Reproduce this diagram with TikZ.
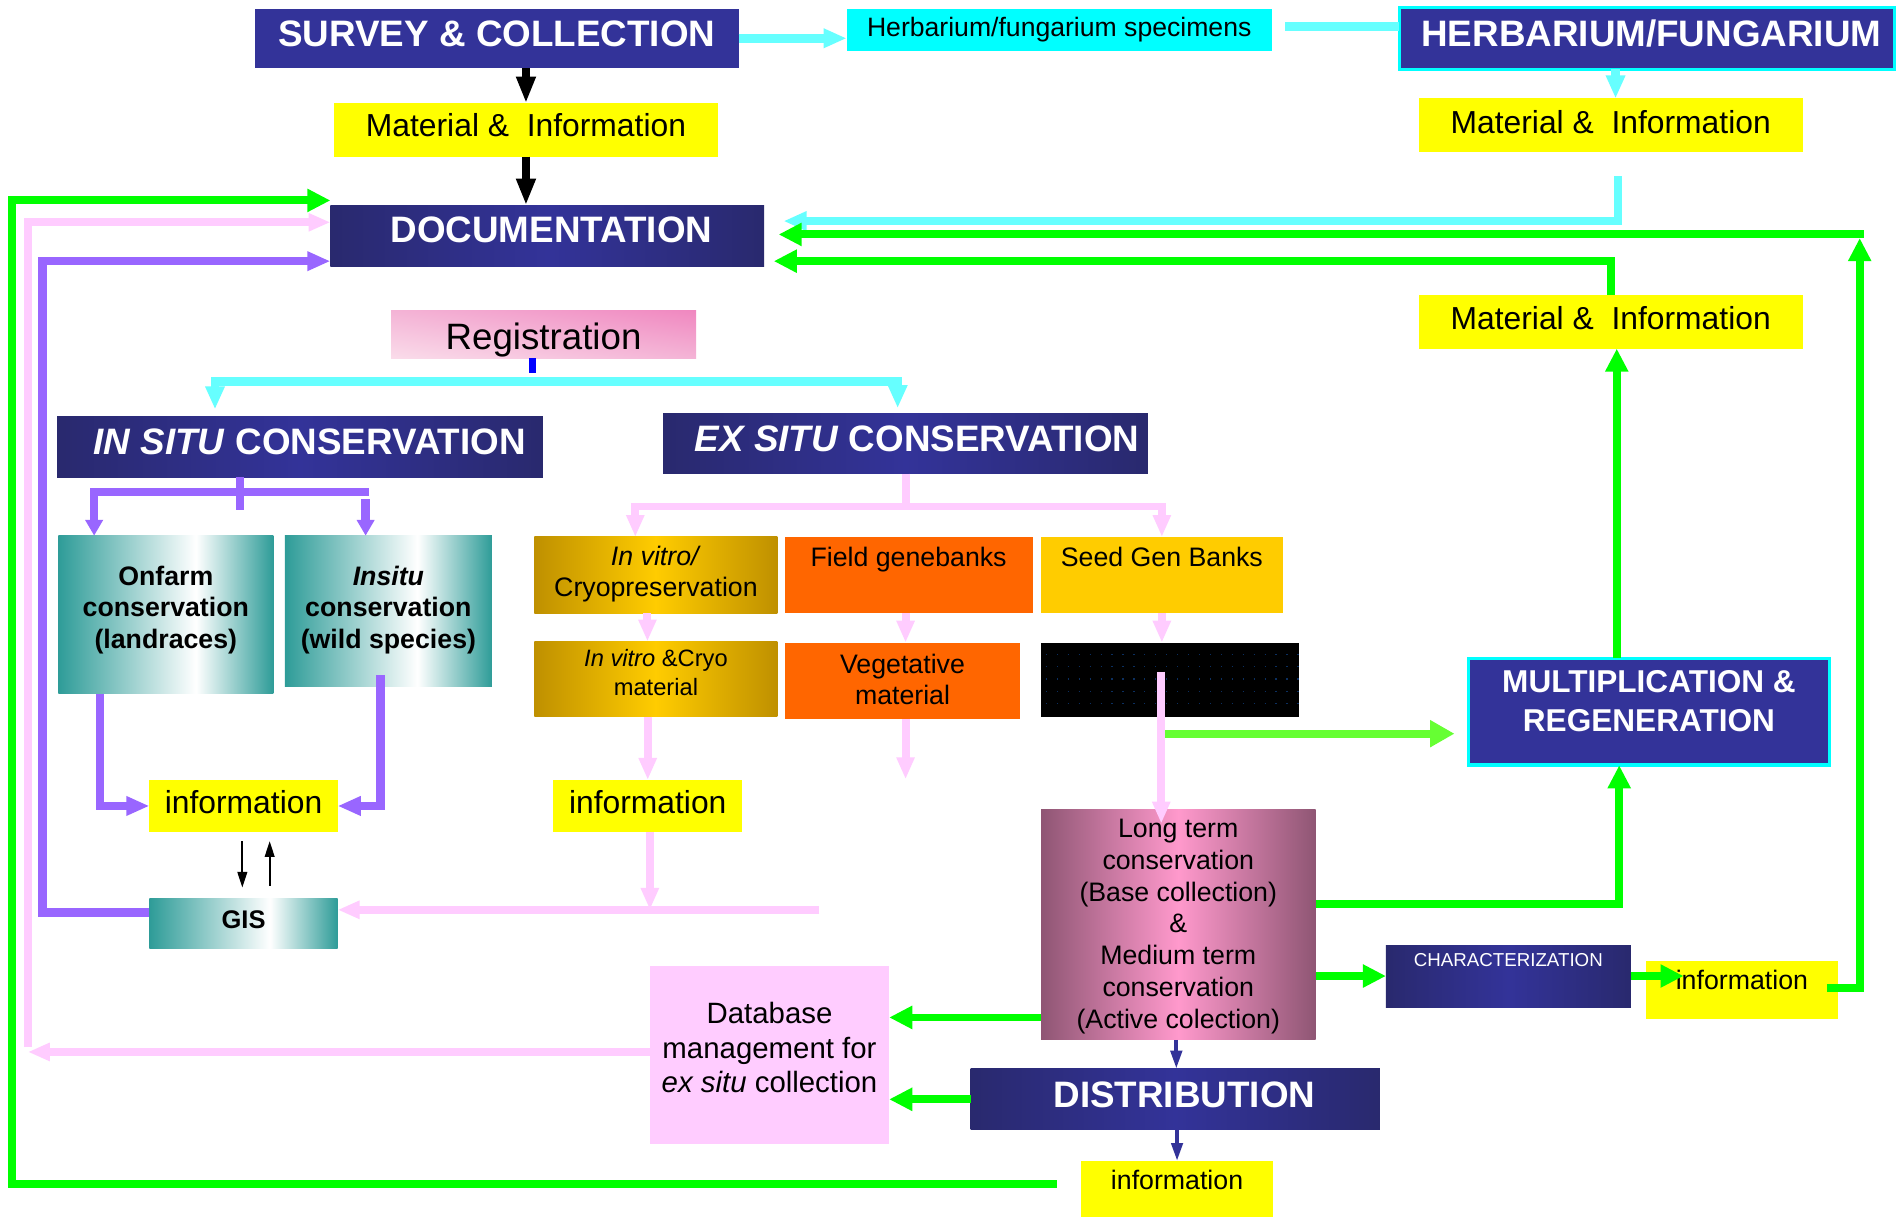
\documentclass[tikz,border=0pt]{standalone}
\usepackage{fontspec}
\setmainfont{Liberation Sans}
\usetikzlibrary{arrows.meta,calc,shadings}
\definecolor{cNavy}{HTML}{333399}
\definecolor{cNavyD}{HTML}{29296E}
\definecolor{cCyanBox}{HTML}{00FFFF}
\definecolor{cCyan}{HTML}{66FFFF}
\definecolor{cYellow}{HTML}{FFFF00}
\definecolor{cGreen}{HTML}{00FF00}
\definecolor{cLGreen}{HTML}{66FF33}
\definecolor{cPurple}{HTML}{9966FF}
\definecolor{cPink}{HTML}{FFCCFF}
\definecolor{cOrange}{HTML}{FF6600}
\definecolor{cGold}{HTML}{FFCC00}
\definecolor{cGoldD}{HTML}{BF9000}
\definecolor{cTeal}{HTML}{2E9C98}
\definecolor{cMauve}{HTML}{8F5674}
\definecolor{cRose}{HTML}{FF99CC}
\definecolor{cBlue}{HTML}{0000FF}
\definecolor{cRegA}{HTML}{FADCEA}
\definecolor{cRegB}{HTML}{F088C0}
\definecolor{cRegM}{HTML}{F4B4D6}
\definecolor{cDot}{HTML}{0B2F60}
\pgfdeclarehorizontalshading{dgteal}{100bp}{color(0bp)=(cTeal); color(25bp)=(cTeal); color(57bp)=(white); color(75bp)=(cTeal); color(100bp)=(cTeal)}
\newcommand\dgH{\fontsize{30.3}{34}\selectfont\bfseries}
\newcommand\dgS{\fontsize{21.9}{25}\selectfont}
\newcommand\dgM{\fontsize{26.2}{30}\selectfont}
\newcommand\dgR{\fontsize{30.2}{34}\selectfont}
\newcommand\dgT{\fontsize{22}{26}\selectfont\bfseries}
\newcommand\dgG{\fontsize{21}{26}\selectfont\bfseries}
\newcommand\dgO{\fontsize{22}{25.8}\selectfont}
\newcommand\dgOV{\fontsize{22}{25.5}\selectfont}
\newcommand\dgV{\fontsize{19.5}{24.5}\selectfont}
\newcommand\dgMR{\fontsize{26}{32.4}\selectfont\bfseries}
\newcommand\dgL{\fontsize{22}{26.18}\selectfont}
\newcommand\dgC{\fontsize{15.4}{18}\selectfont}
\newcommand\dgD{\fontsize{24.2}{28.6}\selectfont}
\newcommand\dgI{\fontsize{22}{26}\selectfont}
\newcommand\dgstk[1]{\begin{tabular}[b]{@{}c@{}}#1\end{tabular}}
\tikzset{
  bx/.style={inner sep=0pt, outer sep=0pt},
  tb/.style 2 args={text height=#1pt, text depth=#2pt},
  navybox/.style={bx, fill=cNavy, text=white, font=\dgH},
  navygrad/.style={bx, left color=cNavyD, right color=cNavyD, middle color=cNavy, text=white, font=\dgH},
  yelbox/.style={bx, fill=cYellow, text=black},
  tealbox/.style={bx, shading=dgteal, text=black, font=\dgT},
  goldbox/.style={bx, left color=cGoldD, right color=cGoldD, middle color=cGold},
  cyanln/.style={draw=cCyan, line width=7pt},
  cyanar/.style={cyanln, -{Triangle[length=19pt,width=15pt]}},
  blkar/.style={draw=black, line width=6pt, -{Triangle[length=22pt,width=15pt]}},
  grnln/.style={draw=cGreen, line width=6.5pt},
  grnar/.style={grnln, -{Triangle[length=19pt,width=18pt]}},
  lgrnar/.style={draw=cLGreen, line width=6.5pt, -{Triangle[length=20pt,width=21pt]}},
  purln/.style={draw=cPurple, line width=7pt},
  purar/.style={purln, -{Triangle[length=19pt,width=15pt]}},
  purarsm/.style={purln, -{Triangle[length=13pt,width=14pt]}},
  pinkln/.style={draw=cPink, line width=6.5pt},
  pinkar/.style={pinkln, -{Triangle[length=18pt,width=14pt]}},
  bluear/.style={draw=cNavy, line width=3.5pt, -{Triangle[length=15pt,width=9pt]}},
  thinar/.style={draw=black, line width=1.6pt, -{Triangle[length=13pt,width=8pt]}}
}
\begin{document}
\begin{tikzpicture}[x=1pt,y=-1pt]
\useasboundingbox (0,0) rectangle (1565,1002);
\fill[white] (0,0) rectangle (1565,1002);

% ---------- nodes ----------
\node[navybox, minimum width=398pt, minimum height=49pt, tb={31.4}{17.6}] (survey) at (409,31.5) {SURVEY \& COLLECTION};
\node[bx, fill=cCyanBox, font=\dgS, minimum width=350pt, minimum height=35pt, tb={23.2}{11.8}] (herbspec) at (872,24.5) {Herbarium/fungarium specimens};
\node[navybox, draw=cCyanBox, line width=2.5pt, minimum width=408pt, minimum height=51pt, tb={32.4}{18.6}] (herb) at (1356,31.5) {\hspace*{7pt}HERBARIUM/FUNGARIUM};
\node[yelbox, font=\dgM, minimum width=316pt, minimum height=44pt, tb={27.5}{16.5}] (mat1) at (433,107) {Material \&~ Information};
\node[yelbox, font=\dgM, minimum width=316pt, minimum height=44pt, tb={28.8}{15.2}] (mat2) at (1326,103) {Material \&~ Information};
\node[navygrad, minimum width=357pt, minimum height=50pt, tb={30.8}{19.2}] (doc) at (450.5,194) {\hspace*{7pt}DOCUMENTATION};
\node[yelbox, font=\dgM, minimum width=316pt, minimum height=44pt, tb={28.1}{15.9}] (mat3) at (1326,265) {Material \&~ Information};
\node[bx, upper right=cRegB, lower left=cRegA, upper left=cRegM, lower right=cRegM, font=\dgR, minimum width=251pt, minimum height=39pt, tb={31.6}{7.4}] (reg) at (447.5,275.5) {Registration};
\node[navygrad, minimum width=400pt, minimum height=50pt, tb={31.3}{18.7}] (insitu) at (247,368) {\hspace*{16pt}\textit{IN SITU} CONSERVATION};
\node[navygrad, minimum width=399pt, minimum height=50pt, tb={32}{18}] (exsitu) at (745.5,365) {\hspace*{19pt}\textit{EX SITU} CONSERVATION};
\node[tealbox, minimum width=177pt, minimum height=130pt, tb={92.7}{37.3}] (onfarm) at (136.5,506) {\dgstk{Onfarm\\conservation\\(landraces)}};
\node[tealbox, minimum width=170.5pt, minimum height=124pt, tb={92.7}{31.3}] (insitu2) at (319.75,503) {\dgstk{\textit{Insitu}\\conservation\\(wild species)}};
\node[yelbox, font=\dgM, minimum width=155pt, minimum height=43pt, tb={27.5}{15.5}] (infoL) at (200.5,663.5) {information};
\node[tealbox, font=\dgG, minimum width=155pt, minimum height=41pt, tb={24}{17}] (gis) at (200.5,760.5) {GIS};
\node[goldbox, font=\dgO, minimum width=200pt, minimum height=63pt, tb={49}{14}] (invitro) at (540,473.5) {\dgstk{\textit{In vitro/}\\Cryopreservation}};
\node[bx, fill=cOrange, font=\dgO, minimum width=204pt, minimum height=63pt, tb={24}{39}] (field) at (748,473.5) {Field genebanks};
\node[bx, fill=cGold, font=\dgO, minimum width=199pt, minimum height=63pt, tb={24}{39}] (seed) at (956.5,473.5) {Seed Gen Banks};
\node[goldbox, font=\dgV, minimum width=200pt, minimum height=62pt, tb={44.8}{17.2}] (invmat) at (540,559) {\dgstk{\textit{In vitro} \&Cryo\\material}};
\node[bx, fill=cOrange, font=\dgOV, minimum width=194pt, minimum height=63pt, tb={50.8}{12.2}] (veg) at (743,560.5) {\dgstk{Vegetative\\material}};
\node[bx, fill=black, minimum width=212pt, minimum height=61pt] (bbox) at (963,559.5) {};
\foreach \r in {1,...,5}{\draw[cDot, line width=1pt, dash pattern=on 1pt off 8pt] ([xshift=4pt,yshift=-\r*10pt]bbox.north west) -- ([yshift=-\r*10pt]bbox.north east);}
\node[yelbox, font=\dgM, minimum width=155.5pt, minimum height=43pt, tb={27.5}{15.5}] (infoM) at (533.25,663.5) {information};
\node[navybox, draw=cCyanBox, line width=3pt, font=\dgMR, minimum width=297pt, minimum height=88pt, tb={60.2}{27.8}] (mult) at (1357.5,586) {\dgstk{MULTIPLICATION \&\\REGENERATION}};
\node[bx, left color=cMauve, right color=cMauve, middle color=cRose, font=\dgL, minimum width=226pt, minimum height=190pt, tb={180.6}{9.4}] (longt) at (970,761) {\dgstk{Long term\\conservation\\(Base collection)\\\&\\Medium term\\conservation\\(Active colection)}};
\node[navygrad, font=\dgC, minimum width=201.5pt, minimum height=51pt, tb={17.3}{33.7}] (charz) at (1241.75,803.5) {CHARACTERIZATION};
\node[yelbox, font=\dgI, minimum width=158pt, minimum height=48pt, tb={23.5}{24.5}] (infoR) at (1434,815) {information};
\node[bx, fill=cPink, font=\dgD, minimum width=197pt, minimum height=147pt, tb={104.6}{42.4}] (db) at (633.5,868.5) {\dgstk{Database\\management for\\\textit{ex situ} collection}};
\node[navygrad, minimum width=337pt, minimum height=50pt, tb={31.7}{18.3}] (dist) at (967.5,905) {\hspace*{15pt}DISTRIBUTION};
\node[yelbox, font=\dgI, minimum width=158pt, minimum height=46pt, tb={23}{23}] (infoB) at (969,979) {information};

% ---------- coordinates ----------
\coordinate (gR) at (1531,193);
\coordinate (gL) at (10,165);
\coordinate (pL) at (23,862);
\coordinate (puL) at (35,215);
\coordinate (split) at (438,314);
\coordinate (pbR) at (303.5,405);
\coordinate (pR) at (301,411);
\coordinate (eb) at (745.5,417);
\coordinate (vegEnd) at (745.5,641.5);
\coordinate (bbIn) at (956,553);
\coordinate (gj) at (959,604);
\coordinate (pH) at (674.5,749);

% ---------- connectors ----------
\draw[cyanar] (survey.east) -- (survey.east -| herbspec.west);
\draw[cyanln] ([xshift=11pt,yshift=2.5pt]herbspec.east) -- ([yshift=2.5pt]herbspec.east -| herb.west);
\draw[cyanar] ([xshift=4pt]mat2.north |- herb.south) -- ([xshift=4pt]mat2.north);
\draw[cyanar] ([xshift=6pt,yshift=-20pt]mat2.south) |- ([xshift=16pt,yshift=12pt]doc.east);
\draw[blkar] (mat1.north |- survey.south) -- (mat1.north);
\draw[blkar] (mat1.south) -- (mat1.south |- doc.north);

\draw[grnar] ([xshift=-9pt,yshift=2pt]infoR.east) -| ([yshift=-3pt]gR);
\draw[grnar] ([xshift=3.25pt]gR) -- ([xshift=12pt]doc.east |- gR);
\draw[grnar] (mat3.north) |- ([xshift=8pt,yshift=-21pt]doc.east);

\draw[grnar] ([xshift=-20pt,yshift=4.5pt]infoB.west) -| (gL) -- (gL -| doc.west);
\draw[pinkar] ([yshift=2.5pt]db.west) -- ([yshift=2.5pt]db.west -| pL);
\draw[pinkar] (pL) |- ([yshift=11pt]doc.west);
\draw[purar] ([yshift=9.5pt]gis.west) -| (puL) -- (puL -| doc.west);

\draw[draw=cBlue, line width=6pt] ([xshift=-9pt]reg.south) -- ++(0,12);
\draw[cyanar] (split) -| ([xshift=-70pt,yshift=6pt]insitu.north);
\draw[cyanar] (split) -| ([xshift=-6.5pt,yshift=4pt]exsitu.north);

\draw[purln] ([xshift=-49.5pt]insitu.south) -- ++(0,27);
\draw[purarsm] (pbR) -| ([xshift=-59pt]onfarm.north);
\draw[purarsm] ([xshift=-18.75pt]insitu2.north |- pR) -- ([xshift=-18.75pt]insitu2.north);
\draw[purar] ([xshift=-54pt]onfarm.south) |- (infoL.west);
\draw[purar] ([xshift=-6.4pt,yshift=9.5pt]insitu2.south) |- (infoL.east);
\draw[thinar] ([xshift=-1pt,yshift=-7.5pt]infoL.south) -- ([xshift=-1pt,yshift=9.3pt]gis.north);
\draw[thinar] ([xshift=21.5pt,yshift=11pt]gis.north) -- ([xshift=21.5pt,yshift=-7.5pt]infoL.south);

\draw[pinkln] (exsitu.south) -- (eb);
\draw[pinkar] (eb) -| ([xshift=-17pt]invitro.north);
\draw[pinkar] (eb) -| (seed.north);
\draw[pinkar] ([xshift=-7pt]invitro.south) -- ([xshift=-7pt]invmat.north);
\draw[pinkar] (invmat.south -| infoM.north) -- (infoM.north);
\draw[pinkar] ([xshift=2.5pt]veg.north |- field.south) -- ([xshift=2.5pt]veg.north);
\draw[pinkar] ([xshift=2.5pt]veg.south) -- (vegEnd);
\draw[pinkar] (seed.south) -- (seed.south |- bbox.north);
\draw[lgrnar] (gj) -- ([xshift=-11.6pt]mult.west |- gj);
\draw[pinkar] (bbIn) -- ([xshift=-14pt,yshift=-12pt]longt.north);

\draw[pinkar] (pH) -- (pH -| gis.east);
\draw[pinkar] ([xshift=1.75pt]infoM.south) -- ([xshift=1.75pt]infoM.south |- pH);

\draw[grnar] ([xshift=5pt]mat3.south |- mult.north) -- ([xshift=5pt]mat3.south);
\draw[grnar] ([yshift=17pt]longt.east) -| ([xshift=-24.5pt]mult.south);
\draw[grnar] (longt.east |- charz.west) -- (charz.west);
\draw[grnar] (charz.east) -- ([xshift=31pt]infoR.west |- charz.east);
\draw[grnar] ([yshift=-76.6pt]longt.west) -- ([yshift=-76.6pt]longt.west -| db.east);
\draw[grnar] (dist.west) -- (dist.west -| db.east);
\draw[bluear] ([xshift=-1.6pt]longt.south) -- ([xshift=-1.6pt]longt.south |- dist.north);
\draw[bluear] (dist.south -| infoB.north) -- (infoB.north);
\end{tikzpicture}
\end{document}
